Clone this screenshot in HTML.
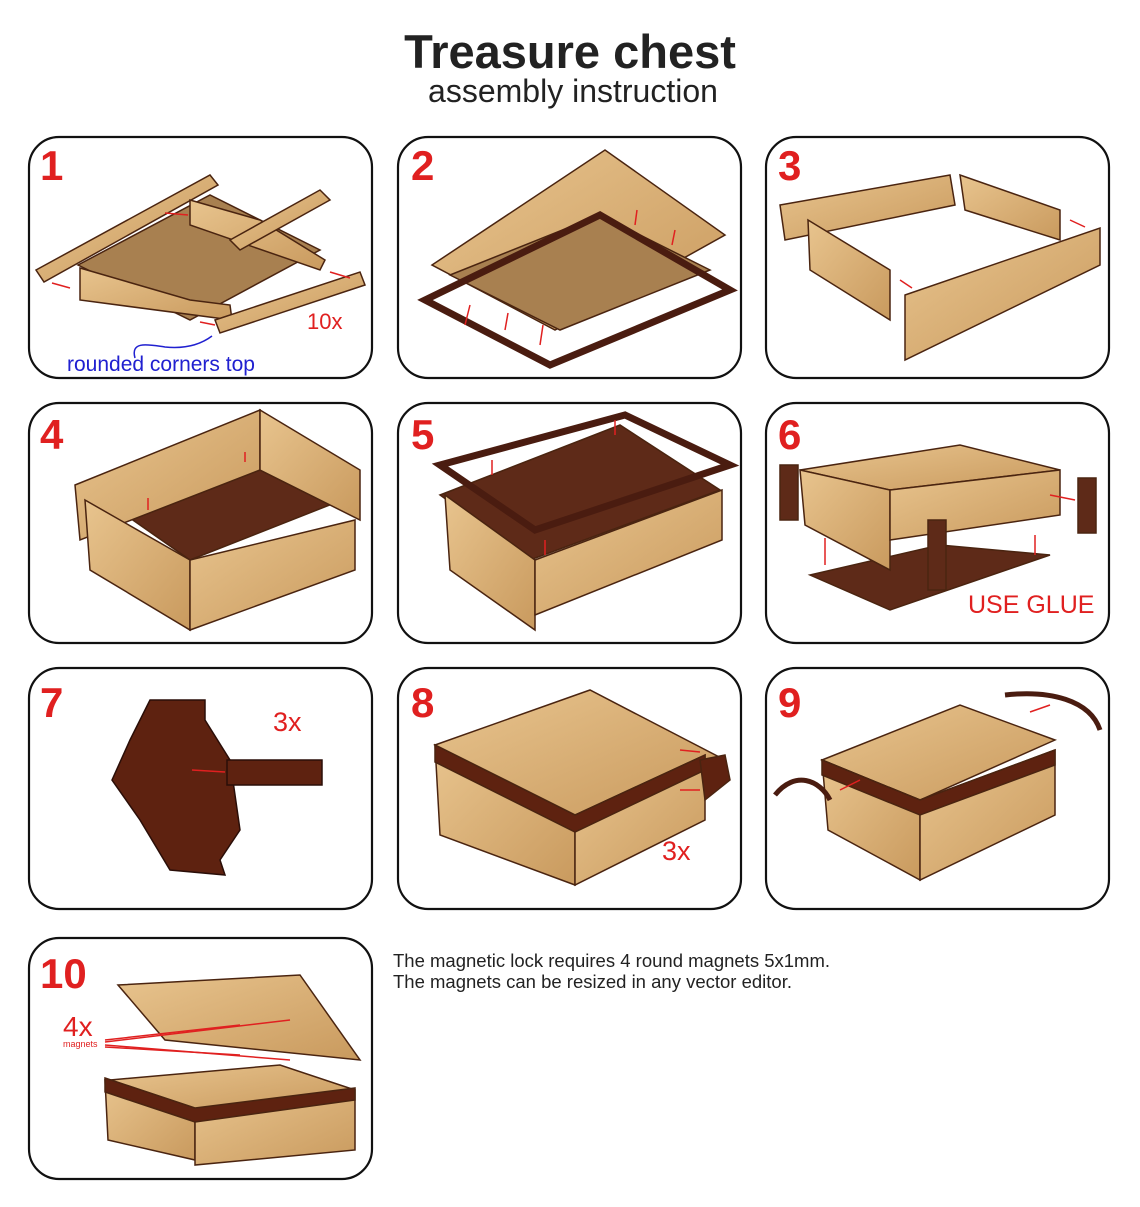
<!DOCTYPE html>
<html><head><meta charset="utf-8"><style>
html,body{margin:0;padding:0;background:#fff;}
svg{display:block;}
text{font-family:"Liberation Sans",sans-serif;}
</style></head><body>
<svg width="1140" height="1207" viewBox="0 0 1140 1207" xmlns="http://www.w3.org/2000/svg">
<defs>
<linearGradient id="w" x1="0" y1="0" x2="1" y2="1"><stop offset="0" stop-color="#e8c48e"/><stop offset="1" stop-color="#c99a5e"/></linearGradient>
</defs>
<rect width="1140" height="1207" fill="#fff"/>
<text x="570" y="68" text-anchor="middle" font-size="47" font-weight="bold" fill="#222">Treasure chest</text>
<text x="573" y="102" text-anchor="middle" font-size="32" fill="#222">assembly instruction</text>

<g fill="none" stroke="#111" stroke-width="2.2">
<rect x="29" y="137" width="343" height="241" rx="30"/>
<rect x="398" y="137" width="343" height="241" rx="30"/>
<rect x="766" y="137" width="343" height="241" rx="30"/>
<rect x="29" y="403" width="343" height="240" rx="30"/>
<rect x="398" y="403" width="343" height="240" rx="30"/>
<rect x="766" y="403" width="343" height="240" rx="30"/>
<rect x="29" y="668" width="343" height="241" rx="30"/>
<rect x="398" y="668" width="343" height="241" rx="30"/>
<rect x="766" y="668" width="343" height="241" rx="30"/>
<rect x="29" y="938" width="343" height="241" rx="30"/>
</g>

<g font-size="42" font-weight="bold" fill="#e02020">
<text x="40" y="180">1</text><text x="411" y="180">2</text><text x="778" y="180">3</text>
<text x="40" y="449">4</text><text x="411" y="449">5</text><text x="778" y="449">6</text>
<text x="40" y="717">7</text><text x="411" y="717">8</text><text x="778" y="717">9</text>
<text x="40" y="988">10</text>
</g>

<!-- Panel 1 -->
<g stroke="#4a2410" stroke-width="1.5">
<polygon points="36,270 210,175 218,185 44,282" fill="url(#w)"/>
<polygon points="78,265 210,195 320,250 190,320" fill="#a88050"/>
<polygon points="80,268 190,300 230,305 232,320 80,300" fill="url(#w)"/>
<polygon points="190,200 260,220 325,260 320,270 190,225" fill="url(#w)"/>
<polygon points="215,320 360,272 365,285 220,333" fill="url(#w)"/>
<polygon points="230,240 320,190 330,200 240,250" fill="url(#w)"/>
</g>
<text x="307" y="329" font-size="22" fill="#e02020">10x</text>
<text x="67" y="371" font-size="21" fill="#2020d0">rounded corners top</text>
<path d="M135,358 C130,340 150,345 165,347 C185,349 200,345 212,336" stroke="#2020d0" fill="none" stroke-width="1.5"/>

<!-- Panel 2 -->
<g stroke="#4a2410" stroke-width="1.5">
<polygon points="432,265 605,150 725,235 555,330" fill="url(#w)"/>
<polygon points="450,275 600,215 710,270 560,330" fill="#a88050"/>
<polygon points="425,300 600,215 730,290 550,365" fill="none" stroke="#4a1c10" stroke-width="7"/>
</g>

<!-- Panel 3 -->
<g stroke="#4a2410" stroke-width="1.5" fill="url(#w)">
<polygon points="780,205 950,175 955,205 785,240"/>
<polygon points="960,175 1060,210 1060,240 965,210"/>
<polygon points="808,220 890,270 890,320 810,270"/>
<polygon points="905,295 1100,228 1100,265 905,360"/>
</g>

<!-- Panel 4 -->
<g stroke="#4a2410" stroke-width="1.5">
<polygon points="90,490 250,460 355,495 190,560" fill="#5e2a18"/>
<polygon points="75,485 260,410 260,470 80,540" fill="url(#w)"/>
<polygon points="260,410 360,470 360,520 260,470" fill="url(#w)"/>
<polygon points="85,500 190,560 190,630 90,570" fill="url(#w)"/>
<polygon points="190,560 355,520 355,570 190,630" fill="url(#w)"/>
</g>

<!-- Panel 5 -->
<g stroke="#4a2410" stroke-width="1.5">
<polygon points="440,495 620,425 720,490 530,560" fill="#5e2a18"/>
<polygon points="440,465 625,415 730,465 535,530" fill="none" stroke="#4a1c10" stroke-width="7"/>
<polygon points="445,495 535,560 535,630 450,570" fill="url(#w)"/>
<polygon points="535,560 722,490 722,540 535,615" fill="url(#w)"/>
</g>

<!-- Panel 6 -->
<g stroke="#4a2410" stroke-width="1.5">
<polygon points="810,575 940,545 1050,555 890,610" fill="#5e2a18"/>
<polygon points="800,470 960,445 1060,470 890,490" fill="url(#w)"/>
<polygon points="800,470 890,490 890,570 805,525" fill="url(#w)"/>
<polygon points="890,490 1060,470 1060,515 890,540" fill="url(#w)"/>
<rect x="780" y="465" width="18" height="55" fill="#5e2a18"/>
<rect x="1078" y="478" width="18" height="55" fill="#5e2a18"/>
<rect x="928" y="520" width="18" height="70" fill="#5e2a18"/>
</g>
<text x="968" y="613" font-size="25" fill="#e02020">USE GLUE</text>

<!-- Panel 7 -->
<g stroke="#2a0e08" stroke-width="1.5" fill="#5e2210">
<path d="M150,700 L205,700 L205,720 L230,760 L240,830 L220,860 L225,875 L170,870 L140,820 L112,780 L130,740 Z"/>
<rect x="227" y="760" width="95" height="25"/>
</g>
<text x="273" y="731" font-size="27" fill="#e02020">3x</text>

<!-- Panel 8 -->
<g stroke="#4a2410" stroke-width="1.5">
<polygon points="435,745 590,690 725,760 575,815" fill="url(#w)"/>
<polygon points="435,745 575,815 575,885 440,835" fill="url(#w)"/>
<polygon points="575,815 705,755 705,820 575,885" fill="url(#w)"/>
<polygon points="435,745 575,815 705,755 705,770 575,832 435,762" fill="#5e2210"/>
<path d="M700,760 L725,755 L730,780 L705,800 Z" fill="#5e2210"/>
</g>
<text x="662" y="860" font-size="27" fill="#e02020">3x</text>

<!-- Panel 9 -->
<g stroke="#4a2410" stroke-width="1.5">
<polygon points="822,760 960,705 1055,740 920,800" fill="url(#w)"/>
<polygon points="822,760 920,800 920,880 828,830" fill="url(#w)"/>
<polygon points="920,800 1055,750 1055,815 920,880" fill="url(#w)"/>
<polygon points="822,760 920,800 1055,750 1055,765 920,815 822,775" fill="#5e2210"/>
</g>
<path d="M1005,695 C1050,690 1090,700 1100,730" stroke="#4a1c10" stroke-width="5" fill="none"/>
<path d="M775,795 C795,770 820,780 830,800" stroke="#4a1c10" stroke-width="5" fill="none"/>

<!-- Panel 10 -->
<g stroke="#4a2410" stroke-width="1.5">
<polygon points="118,985 300,975 360,1060 165,1040" fill="url(#w)"/>
<polygon points="110,1080 280,1065 355,1090 195,1110" fill="url(#w)"/>
<polygon points="105,1080 195,1110 195,1160 108,1140" fill="url(#w)"/>
<polygon points="195,1110 355,1090 355,1150 195,1165" fill="url(#w)"/>
<polygon points="105,1078 195,1108 355,1088 355,1100 195,1122 105,1092" fill="#5e2210"/>
</g>
<text x="63" y="1036" font-size="28" fill="#e02020">4x</text>
<text x="63" y="1047" font-size="9" fill="#e02020">magnets</text>
<g stroke="#e02020" stroke-width="1.5" fill="none">
<path d="M105,1040 L240,1025"/><path d="M105,1042 L290,1020"/><path d="M105,1045 L290,1060"/><path d="M105,1047 L240,1055"/>
</g>

<g stroke="#e02020" stroke-width="1.5">
<path d="M165,213 L188,215"/><path d="M330,272 L350,278"/><path d="M52,283 L70,288"/><path d="M200,322 L215,325"/>
<path d="M465,325 L470,305"/><path d="M505,330 L508,313"/><path d="M540,345 L543,325"/><path d="M635,225 L637,210"/><path d="M672,245 L675,230"/>
<path d="M1070,220 L1085,227"/><path d="M900,280 L912,288"/>
<path d="M148,510 L148,498"/><path d="M245,462 L245,452"/><path d="M615,420 L615,435"/><path d="M492,460 L492,475"/><path d="M545,540 L545,555"/>
<path d="M825,565 L825,538"/><path d="M1035,555 L1035,535"/><path d="M1050,495 L1075,500"/>
<path d="M225,772 L192,770"/><path d="M680,750 L700,752"/><path d="M680,790 L700,790"/><path d="M840,790 L860,780"/><path d="M1030,712 L1050,705"/>
</g>

<text x="393" y="967" font-size="18.5" fill="#222">The magnetic lock requires 4 round magnets 5x1mm.</text>
<text x="393" y="988" font-size="18.5" fill="#222">The magnets can be resized in any vector editor.</text>
</svg>
</body></html>
